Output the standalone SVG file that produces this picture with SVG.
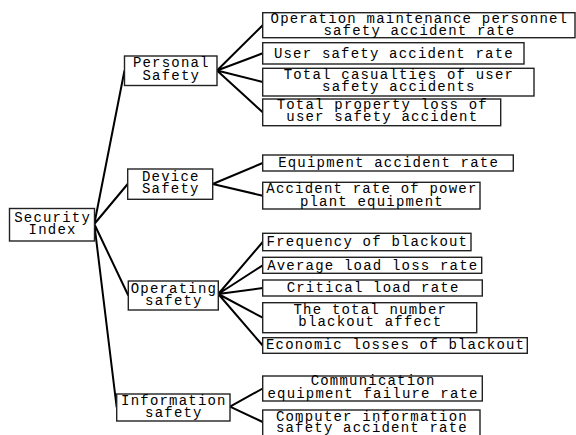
<svg xmlns="http://www.w3.org/2000/svg" width="576" height="435" viewBox="0 0 576 435">
<style>
.b{fill:#fff;stroke:#222;stroke-width:1.4}
.t{font-family:"Liberation Mono","DejaVu Sans Mono",monospace;font-size:14px;letter-spacing:1.2px;fill:#000;text-anchor:middle}
.c{stroke:#000;stroke-width:2;fill:none}
</style>
<rect width="576" height="435" fill="#fff"/>
<g id="connectors">
<path class="c" d="M94.3 224 L124.5 70.5 M94.3 224 L127.7 184 M94.3 224 L128.3 295.5 M94.3 224 L116.7 407.5"/>
<path class="c" d="M217 70.5 L262.7 25.2 M217 70.5 L262.7 53.3 M217 70.5 L262.7 82 M217 70.5 L262.7 112.3"/>
<path class="c" d="M212.7 184 L262.7 163 M212.7 184 L262.7 195.7"/>
<path class="c" d="M218.3 294 L262.7 242 M218.3 294 L262.7 265.3 M218.3 294 L262.7 288 M218.3 294 L262.7 317.7 M218.3 294 L262.7 345.5"/>
<path class="c" d="M230 406.7 L262.7 388.5 M230 406.7 L262.7 422"/>
</g>
<g id="root"><rect class="b" x="9.5" y="208.5" width="85" height="32.5"/><text class="t" x="52.6" y="221.5">Security</text><text class="t" x="52.6" y="234">Index</text></g>
<g id="personal"><rect class="b" x="124.5" y="56" width="92.5" height="29.5"/><text class="t" x="171.3" y="67">Personal</text><text class="t" x="171.3" y="80">Safety</text></g>
<g id="device"><rect class="b" x="127.7" y="169" width="85" height="30.3"/><text class="t" x="170.8" y="180.5">Device</text><text class="t" x="170.8" y="193">Safety</text></g>
<g id="operating"><rect class="b" x="128.3" y="281" width="90" height="29"/><text class="t" x="173.9" y="292.5">Operating</text><text class="t" x="173.9" y="305">safety</text></g>
<g id="information"><rect class="b" x="116.7" y="394" width="113.3" height="27"/><text class="t" x="173.9" y="404.5">Information</text><text class="t" x="173.9" y="417">safety</text></g>
<g id="l1"><rect class="b" x="262.7" y="12.7" width="312.3" height="25"/><text class="t" x="419.4" y="22.5">Operation maintenance personnel</text><text class="t" x="419.4" y="35">safety accident rate</text></g>
<g id="l2"><rect class="b" x="262.7" y="42.7" width="261.3" height="21.3"/><text class="t" x="393.9" y="57.5">User safety accident rate</text></g>
<g id="l3"><rect class="b" x="262.7" y="68.3" width="271.3" height="27.7"/><text class="t" x="398.9" y="78.5">Total casualties of user</text><text class="t" x="398.9" y="91">safety accidents</text></g>
<g id="l4"><rect class="b" x="262.7" y="99" width="238" height="26.7"/><text class="t" x="382.3" y="109">Total property loss of</text><text class="t" x="382.3" y="121">user safety accident</text></g>
<g id="l5"><rect class="b" x="262.7" y="155" width="250.6" height="16"/><text class="t" x="388.6" y="167">Equipment accident rate</text></g>
<g id="l6"><rect class="b" x="262.7" y="182.3" width="217.3" height="26.7"/><text class="t" x="371.9" y="193">Accident rate of power</text><text class="t" x="371.9" y="205.5">plant equipment</text></g>
<g id="l7"><rect class="b" x="262.7" y="233.3" width="208.3" height="17.4"/><text class="t" x="367.4" y="245.5">Frequency of blackout</text></g>
<g id="l8"><rect class="b" x="262.7" y="257.3" width="219" height="16"/><text class="t" x="372.8" y="269.5">Average load loss rate</text></g>
<g id="l9"><rect class="b" x="262.7" y="280" width="219.6" height="16"/><text class="t" x="373.1" y="292">Critical load rate</text></g>
<g id="l10"><rect class="b" x="262.7" y="302.7" width="214" height="30"/><text class="t" x="370.3" y="313.5">The total number</text><text class="t" x="370.3" y="326">blackout affect</text></g>
<g id="l11"><rect class="b" x="262.7" y="337.7" width="264.6" height="15.6"/><text class="t" x="395.6" y="348.5">Economic losses of blackout</text></g>
<g id="l12"><rect class="b" x="262.7" y="376" width="219.6" height="25"/><text class="t" x="373.1" y="385">Communication</text><text class="t" x="373.1" y="398">equipment failure rate</text></g>
<g id="l13"><rect class="b" x="262.7" y="410" width="217.3" height="30"/><text class="t" x="371.9" y="420.5">Computer information</text><text class="t" x="371.9" y="432">safety accident rate</text></g>
</svg>
